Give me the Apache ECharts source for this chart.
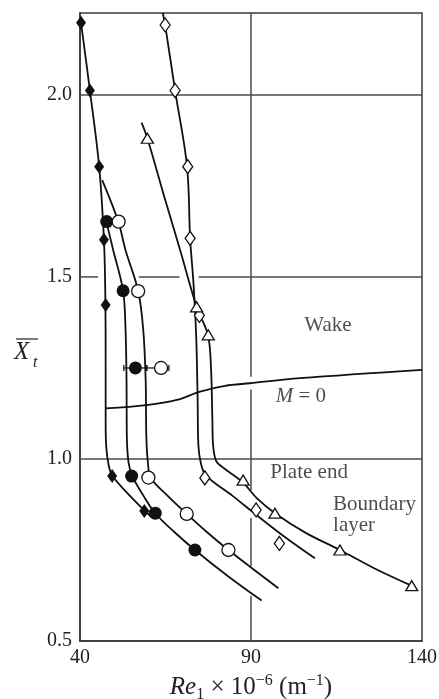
<!DOCTYPE html>
<html>
<head>
<meta charset="utf-8">
<title>Xt vs Re1</title>
<script src="https://cdn.jsdelivr.net/npm/echarts/dist/echarts.min.js"></script>
<style>
  html, body { margin: 0; padding: 0; background: #fff; }
  #chart { width: 439px; height: 699px; }
</style>
</head>
<body>
<div id="chart"></div>
<script>
// tick labels
const xTicks = [40, 90, 140];
const yTicks = [0.5, 1.0, 1.5, 2.0];

// measured points  [Re1 x 1e-6, Xt]
const filledDiamond = [[40.3, 2.198], [42.9, 2.012], [45.6, 1.803], [47.0, 1.602], [47.5, 1.423], [49.4, 0.953], [58.8, 0.857]];
const filledCircle = [[47.8, 1.652], [52.6, 1.462], [56.2, 1.250], [55.1, 0.953], [62.0, 0.851], [73.6, 0.750]];
const openCircle = [[51.3, 1.652], [57.0, 1.461], [63.7, 1.250], [60.0, 0.949], [71.2, 0.849], [83.4, 0.750]];
const openDiamond = [[64.9, 2.192], [67.8, 2.012], [71.5, 1.803], [72.2, 1.606], [74.9, 1.394], [76.5, 0.948], [91.5, 0.860], [98.3, 0.768]];
const openTriangle = [[59.7, 1.881], [74.1, 1.418], [77.5, 1.341], [87.7, 0.942], [97.0, 0.851], [116.0, 0.750], [137.0, 0.652]];

// error bars [xLow, xHigh, y]
const errFilled = [[52.8, 59.4, 1.250]];
const errOpen = [[59.6, 66.0, 1.250]];

// faired curves through the data
const curveFilledDiamond = [[40.3, 2.198], [42.9, 2.012], [45.6, 1.803], [47.0, 1.602], [47.4, 1.45], [47.5, 1.25], [47.5, 1.10], [47.7, 1.03], [48.4, 0.982], [49.5, 0.953], [54.0, 0.905], [59.0, 0.857], [61.0, 0.840]];
const curveFilledCircle = [[47.7, 1.652], [49.7, 1.574], [52.6, 1.462], [53.3, 1.36], [53.6, 1.22], [53.7, 1.06], [54.2, 0.99], [55.3, 0.953], [58.5, 0.900], [62.0, 0.851], [67.5, 0.800], [73.6, 0.750], [83.0, 0.680], [93.1, 0.611]];
const curveOpenCircle = [[46.5, 1.766], [51.2, 1.652], [53.3, 1.574], [57.0, 1.462], [58.5, 1.354], [59.2, 1.217], [59.4, 1.06], [59.9, 0.985], [60.7, 0.948], [65.5, 0.900], [71.2, 0.849], [77.0, 0.800], [83.4, 0.750], [98.0, 0.645]];
const curveOpenDiamond = [[64.2, 2.225], [64.9, 2.192], [67.8, 2.012], [71.3, 1.803], [72.2, 1.606], [73.2, 1.48], [74.0, 1.33], [74.4, 1.16], [74.6, 1.04], [75.3, 0.99], [76.8, 0.955], [84.7, 0.898], [91.6, 0.846], [100.0, 0.785], [108.7, 0.727]];
const curveOpenTriangle = [[58.0, 1.924], [59.7, 1.881], [64.9, 1.712], [69.4, 1.570], [74.1, 1.418], [77.4, 1.341], [78.3, 1.25], [78.7, 1.11], [78.9, 1.04], [79.8, 0.995], [82.0, 0.975], [87.7, 0.935], [91.6, 0.893], [97.0, 0.851], [106.0, 0.797], [116.0, 0.750], [126.0, 0.700], [137.4, 0.650]];
const curveM0 = [[47.5, 1.139], [59.5, 1.148], [68.3, 1.162], [75.1, 1.185], [82.4, 1.201], [89.7, 1.208], [104.3, 1.222], [140.0, 1.245]];

// broken grid lines [x1, y1, x2, y2]
const gridSegments = [
  [40, 2.0, 140, 2.0],
  [40, 1.0, 140, 1.0],
  [40, 1.5, 45.3, 1.5], [57.2, 1.5, 69.1, 1.5], [74.7, 1.5, 140, 1.5],
  [90, 2.225, 90, 1.226], [90, 1.191, 90, 0.915], [90, 0.838, 90, 0.706], [90, 0.624, 90, 0.5]
];

// annotations
const noteText = ['Wake', '{i|M} = 0', 'Plate end', 'Boundary\nlayer'];
const notePos = [[112.5, 1.368], [104.6, 1.173], [107.0, 0.964], [114.0, 0.846]];
const noteAlign = ['center', 'center', 'center', 'left'];

const SERIF = '"Liberation Serif", "DejaVu Serif", serif';
const INK = '#111';

let chart = echarts.init(document.getElementById('chart'));

function segRender(color, width) {
  return function (params, api) {
    let p1 = api.coord([api.value(0), api.value(1)]);
    let p2 = api.coord([api.value(2), api.value(3)]);
    return {
      type: 'line',
      shape: {x1: p1[0], y1: p1[1], x2: p2[0], y2: p2[1]},
      style: {stroke: color, lineWidth: width}
    };
  };
}

function errRender(params, api) {
  let a = api.coord([api.value(0), api.value(2)]);
  let b = api.coord([api.value(1), api.value(2)]);
  let h = 3;
  let st = {stroke: INK, lineWidth: 1.2};
  return {
    type: 'group',
    children: [
      {type: 'line', shape: {x1: a[0], y1: a[1], x2: b[0], y2: b[1]}, style: st},
      {type: 'line', shape: {x1: a[0], y1: a[1] - h, x2: a[0], y2: a[1] + h}, style: st},
      {type: 'line', shape: {x1: b[0], y1: b[1] - h, x2: b[0], y2: b[1] + h}, style: st}
    ]
  };
}

function curve(data) {
  return {
    type: 'line', data: data, symbol: 'none', smooth: 0.35, z: 3,
    lineStyle: {color: INK, width: 1.8}, silent: true
  };
}

function marks(data, symbol, size, filled) {
  return {
    type: 'scatter', data: data, symbol: symbol, symbolSize: size, z: 6,
    itemStyle: {color: filled ? INK : '#fff', borderColor: INK, borderWidth: filled ? 0 : 1.3, opacity: 1}
  };
}

let option = {
  animation: false,
  backgroundColor: '#fff',
  grid: {left: 80, top: 13, right: 17, bottom: 58, outerBoundsMode: 'none', containLabel: false,
    show: true, borderColor: '#3c3c3c', borderWidth: 1.5},
  xAxis: {
    type: 'value', min: 40, max: 140, interval: 50,
    axisLine: {show: true, lineStyle: {color: '#333', width: 1.5}},
    axisTick: {show: false},
    splitLine: {show: false},
    axisLabel: {
      fontFamily: SERIF, fontSize: 20, color: '#222', margin: 7,
      formatter: function (v) { return xTicks.indexOf(v) >= 0 ? String(v) : ''; }
    },
    name: '{i|Re}{sub|1}{n| × 10}{sup|−6}{n| (m}{sup|−1}{n|)}',
    nameLocation: 'middle',
    nameGap: 29,
    nameTextStyle: {
      rich: {
        i: {fontFamily: SERIF, fontStyle: 'italic', fontSize: 25, color: '#222', lineHeight: 30},
        n: {fontFamily: SERIF, fontSize: 25, color: '#222', lineHeight: 30},
        sub: {fontFamily: SERIF, fontSize: 16, color: '#222', lineHeight: 16, verticalAlign: 'bottom'},
        sup: {fontFamily: SERIF, fontSize: 16, color: '#222', lineHeight: 16, verticalAlign: 'top'}
      }
    }
  },
  yAxis: {
    type: 'value', min: 0.5, max: 2.225, interval: 0.5,
    axisLine: {show: true, lineStyle: {color: '#333', width: 1.5}},
    axisTick: {show: false},
    splitLine: {show: false},
    axisLabel: {
      fontFamily: SERIF, fontSize: 20, color: '#222', margin: 8,
      formatter: function (v) {
        for (let t of yTicks) { if (Math.abs(t - v) < 1e-6) return t.toFixed(1); }
        return '';
      }
    }
  },
  graphic: [
    {type: 'text', left: 14, top: 340, style: {text: 'X', font: 'italic 25px ' + SERIF, fill: '#222'}},
    {type: 'text', left: 33, top: 355, style: {text: 't', font: 'italic 16px ' + SERIF, fill: '#222'}},
    {type: 'line', shape: {x1: 16, y1: 339, x2: 38, y2: 339}, style: {stroke: '#222', lineWidth: 1.2}}
  ],
  series: [
    {type: 'custom', data: gridSegments, renderItem: segRender('#4a4a4a', 1.5), encode: {x: [0, 2], y: [1, 3]}, z: 1, silent: true},
    curve(curveFilledDiamond),
    curve(curveFilledCircle),
    curve(curveOpenCircle),
    curve(curveOpenDiamond),
    curve(curveOpenTriangle),
    curve(curveM0),
    {type: 'custom', data: errFilled, renderItem: errRender, encode: {x: [0, 1], y: 2}, z: 4, silent: true},
    {type: 'custom', data: errOpen, renderItem: errRender, encode: {x: [0, 1], y: 2}, z: 4, silent: true},
    marks(filledDiamond, 'diamond', [10, 14], true),
    marks(filledCircle, 'circle', 13, true),
    marks(openCircle, 'circle', 13, false),
    marks(openDiamond, 'diamond', [10, 14], false),
    marks(openTriangle, 'triangle', [12, 10], false),
    {
      type: 'scatter', symbolSize: 0, z: 7, silent: true,
      data: notePos.map(function (p, i) {
        return {
          value: p,
          label: {
            show: true, position: 'inside', formatter: noteText[i], align: noteAlign[i],
            fontFamily: SERIF, fontSize: 21, color: '#222', lineHeight: 21,
            rich: {i: {fontFamily: SERIF, fontStyle: 'italic', fontSize: 21, color: '#222'}}
          }
        };
      })
    }
  ]
};

chart.setOption(option);
</script>
</body>
</html>
